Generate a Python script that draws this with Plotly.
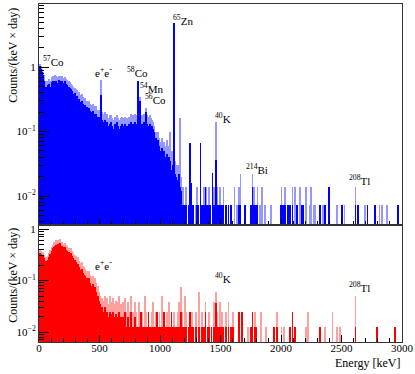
import math
import plotly.graph_objects as go

# ---- data: counts/(keV x day) ----
# dense part, 10 keV bins starting at 0 keV
top_dark = [
    1.05, 0.95, 0.85, 0.75, 0.6, 0.5, 0.47, 0.52, 0.55, 0.5,
    0.58, 0.6, 0.55, 0.62, 0.6, 0.57, 0.63, 0.6, 0.58, 0.62,
    0.56, 0.6, 0.54, 0.52, 0.5, 0.47, 0.45, 0.42, 0.38, 0.4,
    0.35, 0.36, 0.3, 0.32, 0.29, 0.3, 0.27, 0.25, 0.26, 0.24,
    0.22, 0.23, 0.21, 0.2, 0.21, 0.19, 0.18, 0.19, 0.17, 0.16,
    0.17, 0.37, 0.15, 0.14, 0.15, 0.13, 0.14, 0.12, 0.13, 0.14,
    0.12, 0.11, 0.13, 0.12, 0.14, 0.12, 0.11, 0.12, 0.13, 0.11,
    0.12, 0.13, 0.12, 0.11, 0.13, 0.12, 0.14, 0.13, 0.12, 0.14,
    0.13, 0.6, 0.14, 0.3, 0.13, 0.13, 0.14, 0.12, 0.2, 0.13,
    0.12, 0.13, 0.11, 0.12, 0.11, 0.1, 0.08, 0.07, 0.075, 0.06,
    0.05, 0.055, 0.045, 0.05, 0.04, 0.045, 0.03, 0.04, 0.035, 0.025,
    0.03, 4.8, 0.022, 0.02, 0.018, 0.022, 0.014, 0.012, 0.0072, 0.0072,
]
top_light = [
    1.1, 1.05, 0.95, 0.85, 0.75, 0.6, 0.58, 0.62, 0.66, 0.6,
    0.7, 0.72, 0.68, 0.75, 0.72, 0.7, 0.74, 0.72, 0.7, 0.73,
    0.68, 0.7, 0.66, 0.64, 0.6, 0.58, 0.55, 0.52, 0.5, 0.48,
    0.45, 0.44, 0.4, 0.41, 0.37, 0.38, 0.34, 0.33, 0.33, 0.3,
    0.29, 0.3, 0.27, 0.26, 0.27, 0.25, 0.24, 0.25, 0.22, 0.21,
    0.22, 0.63, 0.2, 0.19, 0.2, 0.17, 0.19, 0.16, 0.18, 0.18,
    0.16, 0.15, 0.17, 0.16, 0.18, 0.16, 0.15, 0.16, 0.17, 0.15,
    0.16, 0.17, 0.16, 0.15, 0.17, 0.16, 0.19, 0.18, 0.17, 0.19,
    0.18, 0.6, 0.19, 0.34, 0.18, 0.18, 0.19, 0.17, 0.23, 0.18,
    0.17, 0.18, 0.16, 0.15, 0.14, 0.12, 0.1, 0.09, 0.1, 0.08,
    0.07, 0.08, 0.065, 0.07, 0.06, 0.075, 0.05, 0.06, 0.1, 0.05,
    0.05, 4.8, 0.035, 0.03, 0.03, 0.03, 0.16, 0.02, 0.014, 0.014,
]
# sparse high-energy part: bin start energy, dark height, light height
top_hi_E = [1200, 1210, 1230, 1240, 1250, 1270, 1290, 1300, 1310, 1330,
            1340, 1360, 1370, 1380, 1390, 1400, 1410, 1430, 1440, 1460,
            1470, 1480, 1490, 1510, 1520, 1540, 1560, 1580, 1610, 1630,
            1650, 1660, 1700, 1750, 1760, 1770, 1780, 1790, 1800, 1820,
            1840, 1860, 1910, 1990, 2000, 2010, 2030, 2050, 2070, 2090,
            2110, 2130, 2150, 2170, 2180, 2200, 2230, 2240, 2270, 2280,
            2320, 2340, 2360, 2390, 2460, 2500, 2520, 2610, 2630, 2690,
            2710, 2770, 2810, 2830, 2870, 2960]
top_hi_dark = [.0072, .0072, .0072, .066, .016, .0072, 0, .0072, .0072, .066,
               .0072, .0072, .014, .0072, .0072, .0072, .0072, .023, .0072, .036,
               .0072, .0072, .0072, .0072, .0072, .0072, .0072, .0072, 0, 0,
               .0072, .0072, .0072, .0072, .014, .0072, .0072, .0072, .0072, 0,
               0, 0, 0, .0072, .0072, .0072, .0072, .0072, .0072, .0072,
               0, .0072, 0, .0072, .0072, 0, 0, 0, 0, 0,
               .0072, 0, .0072, .014, 0, .0072, 0, .0072, .0072, 0,
               .0072, .0072, 0, 0, 0, .0072]
top_hi_light = [.0072, .014, .0072, .066, .016, .0072, .0072, .014, .0072, .066,
                .0072, .014, .014, .014, .0072, .014, .0072, .023, .014, .14,
                .014, .0072, .014, .0072, .014, .0072, .0072, .0072, .014, .0072,
                .014, .022, .0072, .0072, .022, .014, .0072, .0072, .014, .0072,
                .014, .0072, .0072, .0072, .014, .0072, .014, .0072, .0072, .014,
                .014, .0072, .014, .0072, .0072, .014, .0072, .014, .0072, .0072,
                .0072, .0072, .0072, .014, .0072, .0072, .0072, .014, .0072, .0072,
                .0072, .0072, .0072, .0072, .0072, .0072]

bot_dark = [
    0.35, 0.33, 0.3, 0.31, 0.27, 0.24, 0.22, 0.25, 0.29, 0.33,
    0.38, 0.42, 0.45, 0.47, 0.5, 0.52, 0.49, 0.54, 0.47, 0.46,
    0.44, 0.45, 0.4, 0.38, 0.36, 0.33, 0.34, 0.3, 0.27, 0.25,
    0.23, 0.2, 0.21, 0.18, 0.16, 0.17, 0.14, 0.13, 0.12, 0.11,
    0.1, 0.11, 0.09, 0.08, 0.085, 0.07, 0.075, 0.06, 0.05, 0.04,
    0.035, 0, 0.03, 0.025, 0.03, 0.022, 0.025, 0.02, 0.025, 0.022,
    0.02, 0.025, 0.02, 0.022, 0.018, 0.02, 0.025, 0.02, 0.015, 0.02,
    0.0125, 0.025, 0.0125, 0.02, 0.0125, 0.0125, 0.025, 0.0125, 0.0125, 0.02,
]
bot_light = [
    0.4, 0.38, 0.35, 0.36, 0.32, 0.28, 0.26, 0.3, 0.35, 0.4,
    0.45, 0.5, 0.55, 0.57, 0.6, 0.62, 0.58, 0.63, 0.56, 0.55,
    0.52, 0.53, 0.48, 0.46, 0.43, 0.4, 0.42, 0.37, 0.34, 0.32,
    0.3, 0.27, 0.28, 0.24, 0.22, 0.23, 0.19, 0.18, 0.17, 0.15,
    0.14, 0.15, 0.13, 0.12, 0.12, 0.1, 0.11, 0.09, 0.08, 0.06,
    0.05, 0.0125, 0.045, 0.04, 0.05, 0.038, 0.045, 0.035, 0.05, 0.038,
    0.035, 0.045, 0.035, 0.04, 0.03, 0.038, 0.05, 0.035, 0.03, 0.038,
    0.025, 0.045, 0.025, 0.038, 0.025, 0.025, 0.05, 0.025, 0.025, 0.038,
]
bot_hi_E = [800, 810, 820, 830, 840, 850, 860, 870, 880, 890,
            900, 910, 930, 940, 950, 960, 970, 980, 990, 1000,
            1010, 1020, 1030, 1040, 1050, 1060, 1070, 1080, 1090, 1100,
            1110, 1130, 1140, 1150, 1160, 1170, 1180, 1190, 1200, 1210,
            1230, 1240, 1260, 1270, 1290, 1320, 1340, 1360, 1370, 1390,
            1400, 1420, 1440, 1460, 1470, 1480, 1490, 1510, 1520, 1540,
            1560, 1580, 1600, 1650, 1670, 1720, 1750, 1760, 1780, 1790,
            1830, 1870, 1940, 1960, 2000, 2020, 2070, 2090, 2110, 2200,
            2220, 2320, 2360, 2420, 2460, 2480, 2610, 2790, 2940]
bot_hi_dark = [.0125, .0125, .0125, .0125, .025, .0125, .0125, .0125, .0125, .0125,
               .025, .0125, .0125, .0125, .0125, .0125, .025, .0125, .0125, .0125,
               .0125, .0125, .025, .0125, .0125, .0125, .0125, .0125, .025, .0125,
               .0125, .0125, .0125, .0125, .0125, .025, .0125, .0125, .0125, .0125,
               .0125, .025, .0125, .0125, .0125, .0125, .0125, .0125, .025, .0125,
               .0125, .0125, .0125, .037, .0125, .0125, .0125, .0125, .0125, .0125,
               .0125, .0125, .0125, .025, .025, 0, .0125, .025, .0125, .0125,
               0, 0, .0125, .0125, 0, 0, .0125, .025, .0125, 0,
               0, .0125, 0, 0, 0, 0, .0125, .0125, .0125]
bot_hi_light = [.025, .0125, .038, .0125, .025, .025, .0125, .05, .025, .0125,
                .025, .0125, .025, .038, .0125, .025, .025, .0125, .025, .0125,
                .05, .025, .025, .0125, .025, .0125, .038, .0125, .025, .0125,
                .025, .0125, .025, .038, .0125, .075, .025, .0125, .05, .025,
                .0125, .025, .025, .0125, .025, .06, .025, .0125, .038, .0125,
                .025, .0125, .038, .06, .025, .0125, .038, .025, .0125, .025,
                .038, .0125, .025, .025, .025, .0125, .0125, .025, .025, .0125,
                .025, .0125, .0125, .025, .0125, .0125, .0125, .025, .0125, .0125,
                .025, .0125, .0125, .025, .0125, .0125, .05, .0125, .0125]

# peak labels: text, energy (keV) of the label's left edge, height
top_labels = ["<sup>57</sup>Co", "e<sup>+</sup>e<sup>-</sup>", "<sup>58</sup>Co",
              "<sup>54</sup>Mn", "<sup>56</sup>Co", "<sup>65</sup>Zn",
              "<sup>40</sup>K", "<sup>214</sup>Bi", "<sup>208</sup>Tl"]
top_label_E = [17, 446, 711, 818, 860, 1091, 1438, 1694, 2545]
top_label_y = [1.24, 0.84, 0.84, 0.47, 0.32, 5.4, 0.16, 0.026, 0.0177]
bot_labels = ["e<sup>+</sup>e<sup>-</sup>", "<sup>40</sup>K", "<sup>208</sup>Tl"]
bot_label_E = [446, 1438, 2545]
bot_label_y = [0.2, 0.112, 0.075]

BIN = 10
FONT = "Liberation Serif, Times New Roman, serif"
BLUE, LBLUE = "rgb(0,0,255)", "rgb(150,150,255)"
RED, LRED = "rgb(255,0,0)", "rgb(255,160,160)"


def centers(starts):
    return [e + BIN / 2 for e in starts]


fig = go.Figure()


def add_panel(dark, light, hi_E, hi_dark, hi_light, col, lcol, xa, ya):
    dense_x = centers([i * BIN for i in range(len(dark))])
    hx = centers(hi_E)
    # light (antialiased-looking) layer first, dark layer on top
    for x, y, c, w in [(dense_x, light, lcol, BIN), (hx, hi_light, lcol, 6),
                       (dense_x, dark, col, BIN), (hx, hi_dark, col, 6)]:
        fig.add_trace(go.Bar(x=x, y=y, width=w, marker=dict(color=c, line=dict(width=0)),
                             xaxis=xa, yaxis=ya, showlegend=False, hoverinfo="skip"))


add_panel(top_dark, top_light, top_hi_E, top_hi_dark, top_hi_light, BLUE, LBLUE, "x", "y")
add_panel(bot_dark, bot_light, bot_hi_E, bot_hi_dark, bot_hi_light, RED, LRED, "x2", "y2")

minor_vals = [m * 10 ** k for k in range(-3, 1) for m in range(2, 10)]
yax = dict(type="log", tickvals=[0.01, 0.1, 1], ticktext=["10<sup>−2</sup>", "10<sup>−1</sup>", "1"],
           ticks="inside", ticklen=10, tickcolor="black", showgrid=False, zeroline=False,
           showline=True, linecolor="#333", mirror=True, automargin=False,
           minor=dict(tickvals=minor_vals, ticks="inside", ticklen=5, tickcolor="black", showgrid=False),
           tickfont=dict(family=FONT, size=11, color="black"))
xax = dict(range=[0, 3000], tickvals=[0, 500, 1000, 1500, 2000, 2500, 3000],
           ticks="inside", ticklen=7, tickcolor="black", showgrid=False, zeroline=False,
           showline=True, linecolor="#333", mirror=True, automargin=False,
           minor=dict(dtick=100, ticks="inside", ticklen=4, tickcolor="black", showgrid=False),
           tickfont=dict(family=FONT, size=11, color="black"))

split = 117 / 338
fig.update_layout(
    width=415, height=374,
    margin=dict(l=39, r=13, t=4, b=32, autoexpand=False),
    paper_bgcolor="white", plot_bgcolor="white",
    barmode="overlay", bargap=0,
    font=dict(family=FONT, size=11, color="black"),
    xaxis=dict(xax, anchor="y", domain=[0, 1], showticklabels=False),
    yaxis=dict(yax, anchor="x", domain=[split, 1], range=[-2.45, 0.98]),
    xaxis2=dict(xax, anchor="y2", domain=[0, 1], matches="x", ticklabelstandoff=-4),
    yaxis2=dict(yax, anchor="x2", domain=[0, split], range=[-2.194, 0.078]),
)

annots = []
for t, e, y in zip(top_labels, top_label_E, top_label_y):
    annots.append(dict(text=t, x=e, y=math.log10(y), xref="x", yref="y",
                       xanchor="left", yanchor="middle", showarrow=False,
                       font=dict(family=FONT, size=11, color="black")))
for t, e, y in zip(bot_labels, bot_label_E, bot_label_y):
    annots.append(dict(text=t, x=e, y=math.log10(y), xref="x2", yref="y2",
                       xanchor="left", yanchor="middle", showarrow=False,
                       font=dict(family=FONT, size=11, color="black")))
for yy in [(342 - 55) / 338, (342 - 275) / 338]:
    annots.append(dict(text="Counts/(keV × day)", x=-0.072, y=yy, xref="paper", yref="paper",
                       textangle=-90, showarrow=False, xanchor="center", yanchor="middle",
                       font=dict(family=FONT, size=12, color="black")))
annots.append(dict(text="Energy [keV]", x=1, y=-0.062, xref="paper", yref="paper",
                   xanchor="right", yanchor="middle", showarrow=False,
                   font=dict(family=FONT, size=12, color="black")))
fig.update_layout(annotations=annots)

# drop the page's default body margin so the figure sits at the window's corner
fig.write_html("out.html", config={"displayModeBar": False},
               post_script="document.body.style.margin='0';")
